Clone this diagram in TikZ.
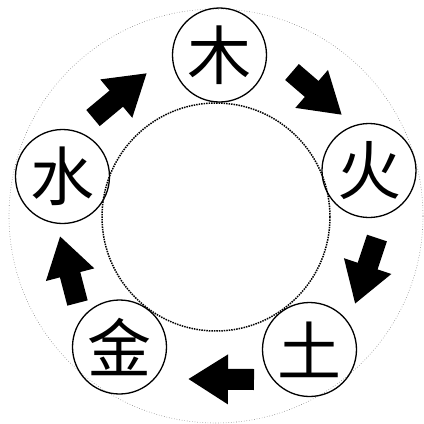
\documentclass[tikz,border=0pt]{standalone}
\usepackage{fontspec}
\newfontfamily\cjk{Noto Sans CJK SC}
\usetikzlibrary{arrows.meta}
\begin{document}
\begin{tikzpicture}[x=1pt,y=-1pt,
  el/.style={circle,draw,line width=1.3pt,minimum size=94pt,inner sep=0pt,
    font=\cjk\fontsize{64}{64}\selectfont},
  flow/.style={line width=21pt,-{Triangle[length=40pt,width=47pt]}}]
\useasboundingbox (0,0) rectangle (424,424);
\node[circle,draw=gray,dotted,line width=0.6pt,minimum size=414pt,inner sep=0pt] (outer) at (216,216) {};
\node[circle,draw,densely dotted,line width=1.5pt,minimum size=228pt,inner sep=0pt] (inner) at (216,217) {};
\node[el] (mu) at (219.5,55) {木};
\node[el] (huo) at (369,170.5) {火};
\node[el] (tu) at (309.5,349.5) {土};
\node[el] (jin) at (119.5,347) {金};
\node[el] (shui) at (62.5,176.5) {水};
\coordinate (t1) at (93,118);   \coordinate (h1) at (147,73);
\coordinate (t2) at (292,72);   \coordinate (h2) at (342,115);
\coordinate (t3) at (377,238);  \coordinate (h3) at (355,304);
\coordinate (t4) at (254,379.5);\coordinate (h4) at (188,379);
\coordinate (t5) at (77.5,303); \coordinate (h5) at (60,236);
\draw[flow] (t1) -- (h1);
\draw[flow] (t2) -- (h2);
\draw[flow] (t3) -- (h3);
\draw[flow] (t4) -- (h4);
\draw[flow] (t5) -- (h5);
\end{tikzpicture}
\end{document}
